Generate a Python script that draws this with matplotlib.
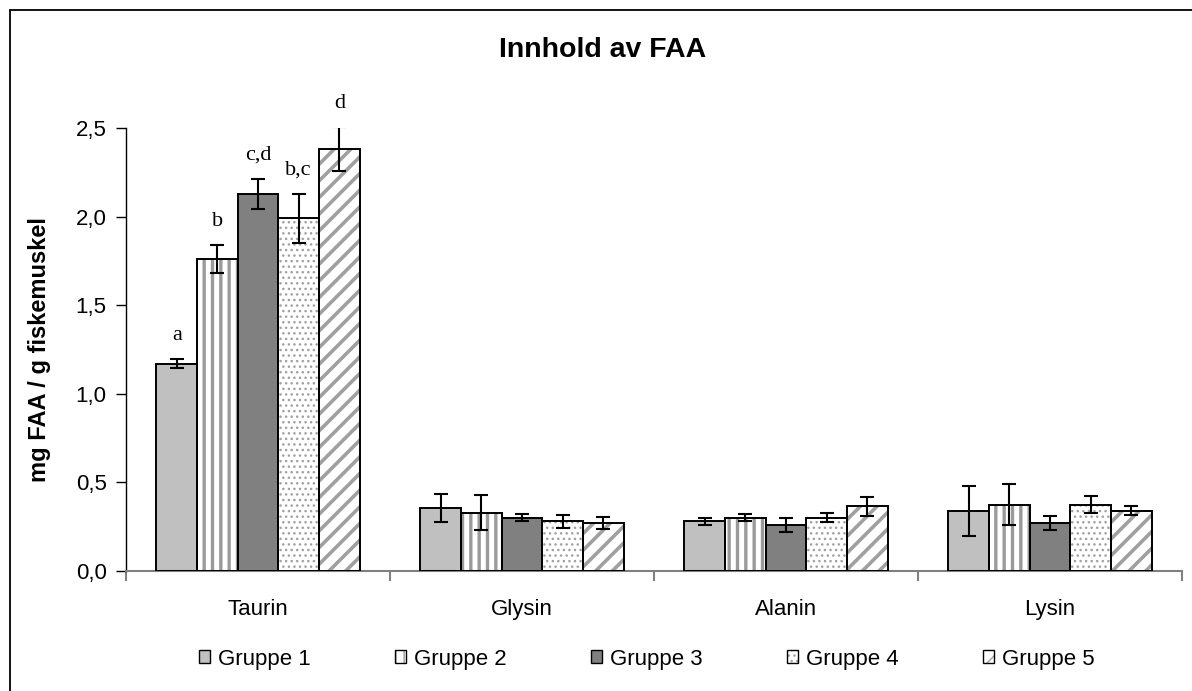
import numpy as np
import matplotlib
matplotlib.use("Agg")
import matplotlib.pyplot as plt
from matplotlib.patches import Rectangle, Patch
from matplotlib.ticker import FixedLocator, FuncFormatter

plt.rcParams['font.family'] = ['Liberation Sans', 'DejaVu Sans']

amino = ["Taurin", "Glysin", "Alanin", "Lysin"]
groups = ["Gruppe 1", "Gruppe 2", "Gruppe 3", "Gruppe 4", "Gruppe 5"]

g1 = [1.17, 0.355, 0.28, 0.34]
g1_err = [0.025, 0.08, 0.02, 0.14]
g2 = [1.76, 0.33, 0.30, 0.375]
g2_err = [0.08, 0.10, 0.02, 0.115]
g3 = [2.13, 0.30, 0.26, 0.27]
g3_err = [0.085, 0.02, 0.04, 0.04]
g4 = [1.99, 0.28, 0.30, 0.375]
g4_err = [0.14, 0.035, 0.025, 0.047]
g5 = [2.38, 0.27, 0.365, 0.34]
g5_err = [0.125, 0.035, 0.053, 0.026]

taurin_letters = ["a", "b", "c,d", "b,c", "d"]

values = [g1, g2, g3, g4, g5]
errors = [g1_err, g2_err, g3_err, g4_err, g5_err]

# face colour, hatch, hatch colour, hatch line width
styles = [
    ("#c0c0c0", None, "#c0c0c0", 1.0),
    ("white", "||", "#9a9a9a", 2.4),
    ("#808080", None, "#808080", 1.0),
    ("white", "...", "#a0a0a0", 1.0),
    ("white", "//", "#a0a0a0", 2.6),
]

W, H = 1192, 691
fig = plt.figure(figsize=(W / 100, H / 100), dpi=100)
ax = fig.add_axes([126 / W, 1 - 571 / H, (1182 - 126) / W, (571 - 128) / H])

x = np.arange(len(amino)) + 0.5
w = 0.154
handles = []
for j in range(len(groups)):
    face, hatch, hcol, hlw = styles[j]
    xs = x + (j - 2) * w
    with plt.rc_context({'hatch.linewidth': hlw}):
        base = ax.bar(xs, values[j], w, color=face, edgecolor=hcol, hatch=hatch,
                      linewidth=0, zorder=2)
        for p in base:
            if hasattr(p, "set_hatch_linewidth"):
                p.set_hatch_linewidth(hlw)
        ax.bar(xs, values[j], w, fill=False, edgecolor="black", linewidth=1.4, zorder=3)
        ax.errorbar(xs, values[j], yerr=errors[j], fmt="none", ecolor="black",
                    elinewidth=1.5, capsize=4.8, capthick=1.5, zorder=4)
        hp = Patch(facecolor=face, edgecolor=hcol, hatch=hatch, linewidth=0)
        if hasattr(hp, "set_hatch_linewidth"):
            hp.set_hatch_linewidth(hlw)
    ho = Patch(fill=False, edgecolor="black", linewidth=1.0)
    handles.append((hp, ho))

    # significance letters above the Taurin bars
    ax.annotate(taurin_letters[j], (xs[0], values[j][0] + errors[j][0]),
                xytext=(0, 14), textcoords="offset points", ha="center", va="baseline",
                fontsize=16, family=["Liberation Serif", "DejaVu Serif"],
                annotation_clip=False)

ax.set_xlim(0, len(amino))
ax.set_ylim(0, 2.5)
ax.set_yticks(np.arange(0, 2.51, 0.5))
ax.yaxis.set_major_formatter(FuncFormatter(lambda v, p: f"{v:.1f}".replace(".", ",")))
ax.tick_params(axis="y", direction="out", length=7, width=1, labelsize=16, pad=7, color="black")

ax.set_xticks(x)
ax.set_xticklabels(amino)
ax.xaxis.set_minor_locator(FixedLocator(np.arange(0, len(amino) + 1)))
ax.tick_params(axis="x", which="major", length=0, labelsize=16, pad=20)
ax.tick_params(axis="x", which="minor", direction="out", length=7, width=1.5, color="#808080")

for s in ["top", "right"]:
    ax.spines[s].set_visible(False)
ax.spines["left"].set_color("black")
ax.spines["left"].set_linewidth(1)
ax.spines["bottom"].set_color("#808080")
ax.spines["bottom"].set_linewidth(1.5)

ax.set_ylabel("mg FAA / g fiskemuskel", fontsize=17, fontweight="bold")
ax.yaxis.set_label_coords(-(126 - 51) / (1182 - 126), 0.5)

fig.text(603 / W, 1 - 50 / H, "Innhold av FAA", ha="center", va="center",
         fontsize=20.5, fontweight="bold")

fig.legend(handles, groups, loc="center", bbox_to_anchor=(647 / W, 1 - 659 / H),
           ncol=5, frameon=False, fontsize=16, handlelength=0.5, handleheight=0.5,
           handletextpad=0.35, columnspacing=3.8)

# outer chart-area border (cut off at the right and bottom like the reference)
top = 1 - 9.5 / H
fig.add_artist(Rectangle((9.5 / W, -0.2), 1.2, top + 0.2, transform=fig.transFigure,
                         fill=False, edgecolor="black", linewidth=1.3))

fig.savefig("out.png", dpi=100)
